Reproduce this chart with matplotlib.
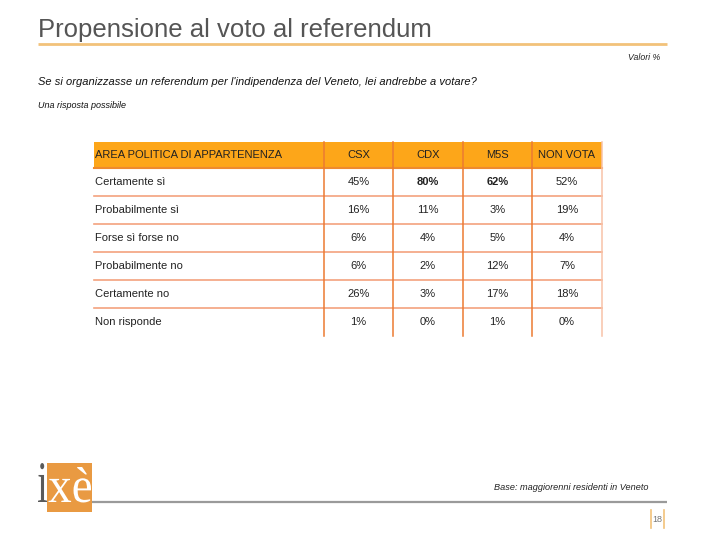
import matplotlib
matplotlib.use("Agg")
import matplotlib.pyplot as plt
from matplotlib.patches import Rectangle, PathPatch
from matplotlib.textpath import TextPath
from matplotlib.font_manager import FontProperties
from matplotlib.transforms import Affine2D

plt.rcParams['font.family'] = ['Liberation Sans', 'DejaVu Sans']

# ---- data ----
title = "Propensione al voto al referendum"
question = "Se si organizzasse un referendum per l'indipendenza del Veneto, lei andrebbe a votare?"
subnote = "Una risposta possibile"
unit_note = "Valori %"
base_note = "Base: maggiorenni residenti in Veneto"
page_no = "18"

header_label = "AREA POLITICA DI APPARTENENZA"
columns = ["CSX", "CDX", "M5S", "NON VOTA"]
rows = ["Certamente sì", "Probabilmente sì", "Forse sì forse no",
        "Probabilmente no", "Certamente no", "Non risponde"]
csx = [45, 16, 6, 6, 26, 1]
cdx = [80, 11, 4, 2, 3, 0]
m5s = [62, 3, 5, 12, 17, 1]
non_vota = [52, 19, 4, 7, 18, 0]
bold_cells = [(0, 1), (0, 2)]  # (row, col) highlighted

# ---- figure ----
W, H = 720, 540
fig = plt.figure(figsize=(W / 100, H / 100), dpi=100)
ax = fig.add_axes([0, 0, 1, 1])
ax.set_xlim(0, W)
ax.set_ylim(H, 0)
ax.axis('off')

# title
ax.text(38, 37, title, fontsize=18.5, color='#555555', ha='left', va='baseline')
ax.plot([38, 667], [43.5, 43.5], color='#F2C27A', lw=2, solid_capstyle='butt')

ax.text(660, 58, unit_note, fontsize=6.3, style='italic', color='#222222', ha='right', va='center')
ax.text(38, 82, question, fontsize=8, style='italic', color='#111111', ha='left', va='center')
ax.text(38, 105, subnote, fontsize=6.5, style='italic', color='#111111', ha='left', va='center')

# table
col_edges = [94, 324, 393, 463, 532, 602]
top, head_h, row_h = 142, 26, 28
values = [csx, cdx, m5s, non_vota]
fs = 8

ax.add_patch(Rectangle((col_edges[0], top), col_edges[-1] - col_edges[0], head_h,
                       facecolor='#FDA619', edgecolor='none', zorder=1))
head_bot = top + head_h
tbl_bot = head_bot + row_h * len(rows)

ax.text(col_edges[0] + 1, top + head_h / 2 + 0.5, header_label, fontsize=fs, color='#222222',
        ha='left', va='center', zorder=3)
for j, c in enumerate(columns):
    xc = (col_edges[j + 1] + col_edges[j + 2]) / 2
    ax.text(xc, top + head_h / 2 + 0.5, c, fontsize=fs, color='#222222', ha='center', va='center', zorder=3)

# horizontal lines
ax.plot([col_edges[0], col_edges[-1]], [head_bot, head_bot], color='#EE8A2E', lw=1.5, zorder=2)
for i in range(1, len(rows)):
    y = head_bot + i * row_h
    ax.plot([col_edges[0], col_edges[-1]], [y, y], color='#F3A27E', lw=1.2, zorder=2)

# vertical lines
for x in col_edges[1:-1]:
    ax.plot([x, x], [top, tbl_bot], color='#EC7A32', lw=1.1, zorder=2)
ax.plot([col_edges[-1], col_edges[-1]], [top, tbl_bot], color='#F8C2A8', lw=1.1, zorder=2)

for i, r in enumerate(rows):
    yc = head_bot + (i + 0.5) * row_h
    ax.text(col_edges[0] + 1, yc, r, fontsize=fs, color='#222222', ha='left', va='center', zorder=3)
    for j, vals in enumerate(values):
        xc = (col_edges[j + 1] + col_edges[j + 2]) / 2
        fw = 'bold' if (i, j) in bold_cells else 'normal'
        ax.text(xc, yc, f"{vals[i]}%", fontsize=fs, color='#222222', ha='center', va='center',
                fontweight=fw, zorder=3)


# footer logo
def fit_text(s, x0, x1, ybase, ytop, color):
    tp = TextPath((0, 0), s, size=100, prop=FontProperties(family='Liberation Serif'))
    ext = tp.get_extents()
    sx = (x1 - x0) / ext.width
    sy = (ybase - ytop) / ext.y1
    tr = Affine2D().translate(-ext.x0, 0).scale(sx, -sy).translate(x0, ybase)
    ax.add_patch(PathPatch(tr.transform_path(tp), facecolor=color, edgecolor='none', zorder=3))


ax.add_patch(Rectangle((47, 463), 45, 49, facecolor='#E99A42', edgecolor='none', zorder=1))
fit_text("i", 38, 47, 502, 463, '#5A5A5A')
fit_text("xè", 48.5, 91, 502, 467, 'white')

ax.plot([92, 667], [501.5, 501.5], color='#9A9A9A', lw=1.6, solid_capstyle='butt')
ax.text(648, 487, base_note, fontsize=6.6, style='italic', color='#222222', ha='right', va='center')
ax.plot([651, 651], [510, 528], color='#F2C27A', lw=1.2)
ax.plot([664, 664], [510, 528], color='#F2C27A', lw=1.2)
ax.text(657.5, 519, page_no, fontsize=6.5, color='#777777', ha='center', va='center')

fig.savefig("out.png", dpi=100)
